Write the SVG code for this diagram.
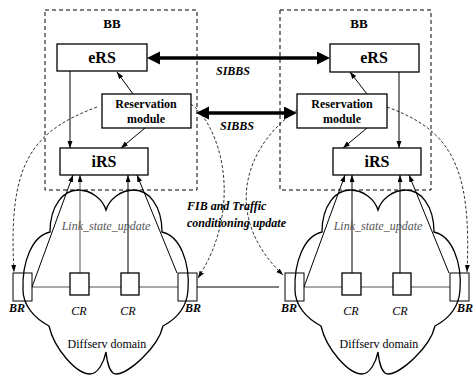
<svg xmlns="http://www.w3.org/2000/svg" xmlns:xlink="http://www.w3.org/1999/xlink" width="474" height="376" viewBox="0 0 474 376" font-family="'Liberation Serif', 'Times New Roman', 'DejaVu Serif', serif">
<style>
  text { font-family: 'Liberation Serif', 'Times New Roman', 'DejaVu Serif', serif; fill: #000; }
  .bb { font-size: 13px; font-weight: bold; text-anchor: middle; }
  .big { font-size: 16px; font-weight: bold; text-anchor: middle; }
  .rm { font-size: 12px; font-weight: bold; text-anchor: middle; }
  .bi { font-size: 12px; font-weight: bold; font-style: italic; }
  .it { font-size: 12px; font-style: italic; text-anchor: middle; }
  .reg { font-size: 12px; text-anchor: middle; }
  .ls { font-size: 12px; font-style: italic; fill: #555; text-anchor: middle; }
  .dash { fill: none; stroke: #000; stroke-width: 1; stroke-dasharray: 4 3; }
  .box { fill: #fff; stroke: #000; stroke-width: 1.3; }
  .router { fill: none; stroke: #000; stroke-width: 1; }
  .cloud { fill: none; stroke: #000; stroke-width: 1.3; }
  .thin { fill: none; stroke: #000; stroke-width: 1; }
  .gray { fill: none; stroke: #555; stroke-width: 1; }
  .curve { fill: none; stroke: #000; stroke-width: 0.8; stroke-dasharray: 3 2; }
  .thick { fill: none; stroke: #000; stroke-width: 3.5; }
</style>
<defs>
  <marker id="ah" markerUnits="userSpaceOnUse" markerWidth="8" markerHeight="6" refX="7" refY="2.5" orient="auto">
    <path d="M0,0 L7,2.5 L0,5 Z" fill="#000"/>
  </marker>
  <marker id="big" markerUnits="userSpaceOnUse" markerWidth="14" markerHeight="14" refX="0" refY="6.5" orient="auto-start-reverse">
    <path d="M0,0 L13,6.5 L0,13 Z" fill="#000"/>
  </marker>
  <path id="cloudShape" d="M 50 232 C 50 205, 64 190, 78 190 C 92 190, 103 200, 106 210 C 109 200, 120 190, 134 190 C 148 190, 162 205, 162 232 C 180 236, 190 262, 188 290 C 187 306, 178 318, 163 326 C 158 348, 128 374, 116 374 C 110 374, 107 362, 106 352 C 104 362, 98 374, 90 374 C 76 374, 54 348, 49 326 C 34 318, 23 305, 23 290 C 22 262, 32 236, 50 232 Z"/>
</defs>
<rect width="474" height="376" fill="#fff"/>

<!-- Bandwidth brokers -->
<g id="bb-left">
  <rect class="dash" x="45" y="10" width="152" height="180"/>
  <text class="bb" x="112" y="28">BB</text>
</g>
<g id="bb-right">
  <rect class="dash" x="280" y="10" width="151" height="180"/>
  <text class="bb" x="359" y="28">BB</text>
</g>

<!-- Clouds -->
<g id="domain-left">
  <use xlink:href="#cloudShape" class="cloud"/>
  <text class="reg" x="107" y="348">Diffserv domain</text>
</g>
<g id="domain-right">
  <use xlink:href="#cloudShape" class="cloud" transform="translate(272,0)"/>
  <text class="reg" x="379" y="348">Diffserv domain</text>
</g>

<!-- Connectors -->
<g id="connectors">
  <!-- SIBBS -->
  <line class="thick" x1="160" y1="58" x2="317" y2="58" marker-start="url(#big)" marker-end="url(#big)"/>
  <line class="thick" x1="209" y1="113" x2="284" y2="113" marker-start="url(#big)" marker-end="url(#big)"/>
  <!-- left BB internal -->
  <line class="thin" x1="70" y1="71" x2="70" y2="148" marker-end="url(#ah)"/>
  <line class="thin" x1="133" y1="94" x2="117" y2="72" marker-end="url(#ah)"/>
  <line class="thin" x1="145" y1="128" x2="121" y2="148" marker-end="url(#ah)"/>
  <!-- right BB internal -->
  <line class="thin" x1="399" y1="72" x2="399" y2="148" marker-end="url(#ah)"/>
  <line class="thin" x1="367" y1="94" x2="350" y2="72" marker-end="url(#ah)"/>
  <line class="thin" x1="367" y1="128" x2="343" y2="148" marker-end="url(#ah)"/>
  <!-- left domain links -->
  <line class="gray" x1="32" y1="287" x2="70" y2="287"/>
  <line class="gray" x1="89" y1="287" x2="121" y2="287"/>
  <line class="gray" x1="139" y1="287" x2="178" y2="287"/>
  <line class="thin" x1="32" y1="287" x2="73" y2="175" marker-end="url(#ah)"/>
  <line class="gray" x1="80" y1="273" x2="80" y2="175" marker-end="url(#ah)"/>
  <line class="thin" x1="128" y1="273" x2="128" y2="175" marker-end="url(#ah)"/>
  <line class="thin" x1="177" y1="273" x2="137" y2="175" marker-end="url(#ah)"/>
  <!-- right domain links -->
  <line class="gray" x1="304" y1="287" x2="342" y2="287"/>
  <line class="gray" x1="361" y1="287" x2="393" y2="287"/>
  <line class="gray" x1="411" y1="287" x2="450" y2="287"/>
  <line class="thin" x1="304" y1="287" x2="345" y2="175" marker-end="url(#ah)"/>
  <line class="thin" x1="352" y1="273" x2="352" y2="175" marker-end="url(#ah)"/>
  <line class="thin" x1="400" y1="273" x2="400" y2="175" marker-end="url(#ah)"/>
  <line class="thin" x1="449" y1="273" x2="409" y2="175" marker-end="url(#ah)"/>
  <!-- inter-domain link -->
  <line class="thin" x1="197" y1="287" x2="279" y2="287"/>
  <!-- FIB and traffic conditioning updates -->
  <path class="curve" d="M 97 107 C 30 132, 8 165, 14 272" marker-end="url(#ah)"/>
  <path class="curve" d="M 191 104 C 220 125, 245 205, 198 278" marker-end="url(#ah)"/>
  <path class="curve" d="M 297 110 C 240 150, 225 220, 283 275" marker-end="url(#ah)"/>
  <path class="curve" d="M 387 107 C 450 130, 472 165, 467 272" marker-end="url(#ah)"/>
</g>

<!-- Labels on connectors -->
<text class="bi" x="233" y="75" text-anchor="middle">SIBBS</text>
<text class="bi" x="237" y="130" text-anchor="middle">SIBBS</text>
<text class="bi" x="187" y="210">FIB and Traffic</text>
<text class="bi" x="187" y="227">conditioning update</text>
<text class="ls" x="106" y="230">Link_state_update</text>
<text class="ls" x="378" y="230">Link_state_update</text>

<!-- Left BB nodes -->
<g id="ers-left">
  <rect class="box" x="57" y="44" width="90" height="27"/>
  <text class="big" x="102" y="63">eRS</text>
</g>
<g id="rm-left">
  <rect class="box" x="102" y="94" width="89" height="34"/>
  <text class="rm" x="146" y="108">Reservation</text>
  <text class="rm" x="146" y="123">module</text>
</g>
<g id="irs-left">
  <rect class="box" x="60" y="148" width="88" height="27"/>
  <text class="big" x="104" y="167">iRS</text>
</g>

<!-- Right BB nodes -->
<g id="ers-right">
  <rect class="box" x="330" y="44" width="89" height="28"/>
  <text class="big" x="374" y="63">eRS</text>
</g>
<g id="rm-right">
  <rect class="box" x="297" y="94" width="90" height="34"/>
  <text class="rm" x="342" y="108">Reservation</text>
  <text class="rm" x="342" y="123">module</text>
</g>
<g id="irs-right">
  <rect class="box" x="333" y="148" width="88" height="27"/>
  <text class="big" x="377" y="167">iRS</text>
</g>

<!-- Left domain routers -->
<g id="br-left-1">
  <rect class="router" x="13" y="273" width="19" height="28"/>
  <text class="bi" x="9" y="312">BR</text>
</g>
<g id="cr-left-1">
  <rect class="box" x="70" y="273" width="19" height="22" stroke-width="1"/>
  <text class="it" x="79" y="315">CR</text>
</g>
<g id="cr-left-2">
  <rect class="box" x="121" y="273" width="18" height="22" stroke-width="1"/>
  <text class="it" x="128" y="315">CR</text>
</g>
<g id="br-left-2">
  <rect class="router" x="178" y="273" width="19" height="28"/>
  <text class="bi" x="185" y="312">BR</text>
</g>

<!-- Right domain routers -->
<g id="br-right-1">
  <rect class="router" x="285" y="273" width="19" height="28"/>
  <text class="bi" x="281" y="312">BR</text>
</g>
<g id="cr-right-1">
  <rect class="box" x="342" y="273" width="19" height="22" stroke-width="1"/>
  <text class="it" x="351" y="315">CR</text>
</g>
<g id="cr-right-2">
  <rect class="box" x="393" y="273" width="18" height="22" stroke-width="1"/>
  <text class="it" x="400" y="315">CR</text>
</g>
<g id="br-right-2">
  <rect class="router" x="450" y="273" width="19" height="28"/>
  <text class="bi" x="457" y="312">BR</text>
</g>
</svg>
